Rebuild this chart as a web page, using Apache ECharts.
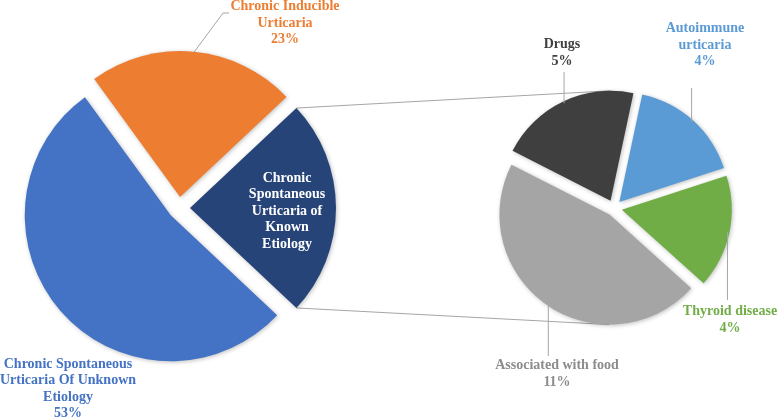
<!DOCTYPE html>
<html>
<head>
<meta charset="utf-8">
<script src="https://cdn.jsdelivr.net/npm/echarts@6/dist/echarts.min.js"></script>
<style>
html,body{margin:0;padding:0;background:#fff;}
#main{width:778px;height:419px;}
</style>
</head>
<body>
<div id="main"></div>
<script>
// ---- data ----
const leftCategories = ['Chronic\nSpontaneous\nUrticaria of\nKnown\nEtiology', 'Chronic Spontaneous\nUrticaria Of Unknown\nEtiology', 'Chronic Inducible\nUrticaria'];
const leftValues = [24, 53, 23];
const rightCategories = ['Autoimmune\nurticaria', 'Thyroid disease', 'Associated with food', 'Drugs'];
const rightValues = [4, 4, 11, 5];

// ---- styles / geometry ----
const FONT = "'Liberation Serif', 'Times New Roman', serif";
const leftColors = ['#264478', '#4472C4', '#ED7D31'];
const leftTextColors = ['#ffffff', '#4472C4', '#ED7D31'];
const rightColors = ['#5B9BD5', '#70AD47', '#A5A5A5', '#3F3F3F'];
const rightTextColors = ['#5B9BD5', '#70AD47', '#8C8C8C', '#404040'];
const L = {cx: 179, cy: 208, r: 146, off: 11, start: 43.2};
const R = {cx: 614, cy: 208, r: 110, off: 8, start: 78};
const leftLabelPos = [[287, 211], [68, 389], [285, 23]];
const rightLabelPos = [[705, 45], [730, 320], [557, 374], [562, 53]];

function angles(values, start) {
  const total = values.reduce((a, b) => a + b, 0);
  let a = start;
  return values.map(v => {
    const span = v / total * 360;
    const s = a; a -= span;
    return {s: s, e: a, m: s - span / 2};
  });
}
function pt(g, ang, extra) {
  const rad = ang * Math.PI / 180;
  const c = [g.cx + g.off * Math.cos(rad), g.cy - g.off * Math.sin(rad)];
  return [c[0] + extra * Math.cos(rad), c[1] - extra * Math.sin(rad)];
}
const la = angles(leftValues, L.start);
const ra = angles(rightValues, R.start);

// leader lines
function leftLine(i) {
  if (i !== 2) return null;
  const p = pt(L, la[i].m, L.r - 1);
  return [p, [223, 13], [229, 13]];
}
const rightLineEndY = [88, 300, 356, 72];
function rightLine(i) {
  const p = pt(R, ra[i].m, R.r - 2);
  return [p, [p[0], rightLineEndY[i]]];
}

// connector lines between pies
function corner(g, a, edge) {
  const c = pt(g, a.m, 0); const rad = edge * Math.PI / 180;
  return [c[0] + g.r * Math.cos(rad), c[1] - g.r * Math.sin(rad)];
}
const knownTop = corner(L, la[0], la[0].s);
const knownBot = corner(L, la[0], la[0].e);
const drugC = pt(R, ra[3].m, 0);
const foodC = pt(R, ra[2].m, 0);
const rightTop = [drugC[0], drugC[1] - R.r];
const rightBot = [foodC[0], foodC[1] + R.r];

const baseLabel = {show: true, fontFamily: FONT, fontWeight: 'bold', fontSize: 14, lineHeight: 16.5, align: 'center'};
const shadow = {shadowBlur: 4, shadowColor: 'rgba(0,0,0,0.25)', shadowOffsetX: 1, shadowOffsetY: 1};

function slicesSeries(g, values, names, colors) {
  return {
    type: 'pie', z: 2, silent: true,
    center: [g.cx, g.cy], radius: g.r,
    startAngle: g.start, clockwise: true,
    selectedMode: 'multiple', selectedOffset: g.off,
    itemStyle: shadow,
    label: {show: false}, labelLine: {show: false},
    emphasis: {disabled: true},
    data: values.map((v, i) => ({name: names[i], value: v, selected: true, itemStyle: {color: colors[i]}}))
  };
}

const chart = echarts.init(document.getElementById('main'), null, {renderer: 'canvas'});
const option = {
  animation: false,
  backgroundColor: '#ffffff',
  graphic: [
    {type: 'line', z: 0, shape: {x1: knownTop[0], y1: knownTop[1], x2: rightTop[0], y2: rightTop[1]}, style: {stroke: '#A6A6A6', lineWidth: 1}},
    {type: 'line', z: 0, shape: {x1: knownBot[0], y1: knownBot[1], x2: rightBot[0], y2: rightBot[1]}, style: {stroke: '#A6A6A6', lineWidth: 1}}
  ],
  series: [
    slicesSeries(L, leftValues, leftCategories, leftColors),
    slicesSeries(R, rightValues, rightCategories, rightColors),
    {
      // label layer for the left pie
      type: 'pie', z: 3, silent: true,
      center: [L.cx, L.cy], radius: L.r,
      startAngle: L.start, clockwise: true,
      avoidLabelOverlap: false,
      itemStyle: {color: 'rgba(0,0,0,0)'},
      label: Object.assign({position: 'outside'}, baseLabel),
      labelLine: {show: true, lineStyle: {color: '#A6A6A6', width: 1}},
      emphasis: {disabled: true},
      data: leftValues.map((v, i) => ({
        name: leftCategories[i], value: v,
        label: {color: leftTextColors[i], position: i === 0 ? 'inside' : 'outside', formatter: i === 0 ? '{b}' : '{b}\n{c}%'},
        labelLine: {show: i === 2}
      })),
      labelLayout: function (p) {
        const i = p.dataIndex;
        const res = {x: leftLabelPos[i][0], y: leftLabelPos[i][1], align: 'center', verticalAlign: 'middle'};
        const ln = leftLine(i);
        if (ln) res.labelLinePoints = ln;
        return res;
      }
    },
    {
      // label layer for the right pie
      type: 'pie', z: 3, silent: true,
      center: [R.cx, R.cy], radius: R.r,
      startAngle: R.start, clockwise: true,
      avoidLabelOverlap: false,
      itemStyle: {color: 'rgba(0,0,0,0)'},
      label: Object.assign({position: 'outside', formatter: '{b}\n{c}%'}, baseLabel),
      labelLine: {show: true, lineStyle: {color: '#A6A6A6', width: 1}},
      emphasis: {disabled: true},
      data: rightValues.map((v, i) => ({
        name: rightCategories[i], value: v,
        label: {color: rightTextColors[i]}
      })),
      labelLayout: function (p) {
        const i = p.dataIndex;
        return {x: rightLabelPos[i][0], y: rightLabelPos[i][1], align: 'center', verticalAlign: 'middle', labelLinePoints: rightLine(i)};
      }
    }
  ]
};
chart.setOption(option);
</script>
</body>
</html>
